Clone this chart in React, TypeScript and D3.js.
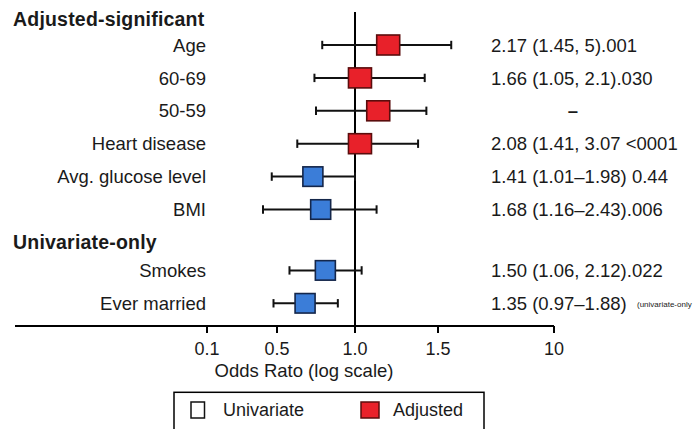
import React from "react";
import * as d3 from "d3";

// Odds-ratio axis: tick values shown along the bottom
const TICK_VALUES = [0.1, 0.5, 1.0, 1.5, 10];
const TICK_LABELS = ["0.1", "0.5", "1.0", "1.5", "10"];

// Rows of the forest plot
const GROUPS = ["Adjusted-significant", "Univariate-only"];
const ROW_NAMES = ["Age", "60-69", "50-59", "Heart disease", "Avg. glucose level", "BMI", "Smokes", "Ever married"];
const ROW_GROUP = [0, 0, 0, 0, 0, 0, 1, 1];
const ROW_KIND = ["adjusted", "adjusted", "adjusted", "adjusted", "univariate", "univariate", "univariate", "univariate"];
const OR_POINT = [1.2, 1.03, 1.14, 1.03, 0.73, 0.78, 0.81, 0.68];
const OR_LOW = [0.79, 0.74, 0.75, 0.63, 0.47, 0.42, 0.58, 0.48];
const OR_HIGH = [2.47, 1.42, 1.43, 1.38, 1.0, 1.13, 1.04, 0.89];
const ROW_TEXT = [
  "2.17 (1.45, 5).001",
  "1.66 (1.05, 2.1).030",
  "–",
  "2.08 (1.41, 3.07 <0001",
  "1.41 (1.01–1.98) 0.44",
  "1.68 (1.16–2.43).006",
  "1.50 (1.06, 2.12).022",
  "1.35 (0.97–1.88)",
];
const ROW_NOTE = ["", "", "", "", "", "", "", "(univariate-only"];

const LEGEND_LABELS = ["Univariate", "Adjusted"];

const W = 699;
const H = 429;
const FONT = "'Liberation Sans', Arial, Helvetica, sans-serif";
const TEXT = "#1a1a1a";
const RED = "#e8212a";
const RED_EDGE = "#5a0d0d";
const BLUE = "#3b7dd8";
const BLUE_EDGE = "#14264a";

// Piecewise axis: each tick gets its own stop along the axis
const x = d3.scaleLinear().domain(TICK_VALUES).range([207, 277, 355, 438, 554]).clamp(false);

const ROW_TOP = 45;
const ROW_STEP = 32.9;
const GROUP_GAP = 28;
const rowY = (i: number) => ROW_TOP + ROW_STEP * i + (ROW_GROUP[i] === 1 ? GROUP_GAP : 0);

export default function App() {
  const axisY = 326;
  const capH = 4.2;
  const groupHeaderY = [25.7, 248.7];

  return (
    <div style={{ position: "fixed", left: 0, top: 0, width: W, height: H, background: "#fff" }}>
      <svg width={W} height={H} viewBox={`0 0 ${W} ${H}`} style={{ display: "block", fontFamily: FONT }}>
        <rect width={W} height={H} fill="#fff" />

        {/* Group headers */}
        {GROUPS.map((g, gi) => (
          <text key={g} x={13} y={groupHeaderY[gi]} fontSize={19.5} fontWeight="bold" fill={TEXT} letterSpacing={0.2}>
            {g}
          </text>
        ))}

        {/* Row labels */}
        {ROW_NAMES.map((name, i) => (
          <text key={name} x={206} y={rowY(i)} dy="0.36em" fontSize={18.5} textAnchor="end" fill={TEXT}>
            {name}
          </text>
        ))}

        {/* Reference line at OR = 1 */}
        <line x1={x(1)} x2={x(1)} y1={12} y2={axisY} stroke="#000" strokeWidth={2} />

        {/* Confidence intervals and point estimates */}
        {ROW_NAMES.map((name, i) => {
          const y = rowY(i);
          const adj = ROW_KIND[i] === "adjusted";
          const w = adj ? 23 : 20;
          const h = adj ? 20 : 19.5;
          return (
            <g key={name}>
              <line x1={x(OR_LOW[i])} x2={x(OR_HIGH[i])} y1={y} y2={y} stroke="#111" strokeWidth={2} />
              <line x1={x(OR_LOW[i])} x2={x(OR_LOW[i])} y1={y - capH} y2={y + capH} stroke="#111" strokeWidth={2} />
              <line x1={x(OR_HIGH[i])} x2={x(OR_HIGH[i])} y1={y - capH} y2={y + capH} stroke="#111" strokeWidth={2} />
              <rect
                x={x(OR_POINT[i]) - w / 2}
                y={y - h / 2}
                width={w}
                height={h}
                fill={adj ? RED : BLUE}
                stroke={adj ? RED_EDGE : BLUE_EDGE}
                strokeWidth={1.6}
              />
            </g>
          );
        })}

        {/* Estimate text column */}
        {ROW_TEXT.map((t, i) => (
          <g key={i}>
            {t === "–" ? (
              <text x={573} y={rowY(i)} dy="0.36em" fontSize={18.5} fontWeight="bold" textAnchor="middle" fill={TEXT}>
                {t}
              </text>
            ) : (
              <text x={491} y={rowY(i)} dy="0.36em" fontSize={18.5} fill={TEXT}>
                {t}
              </text>
            )}
            {ROW_NOTE[i] && (
              <text x={637} y={rowY(i)} dy="0.45em" fontSize={8} fill={TEXT}>
                {ROW_NOTE[i]}
              </text>
            )}
          </g>
        ))}

        {/* X axis */}
        <line x1={15} x2={x(10)} y1={axisY} y2={axisY} stroke="#000" strokeWidth={2} />
        {TICK_VALUES.map((v, i) => (
          <g key={v} transform={`translate(${x(v)},${axisY})`}>
            <line y1={0} y2={7} stroke="#000" strokeWidth={2} />
            <text y={29} fontSize={18} textAnchor="middle" fill={TEXT}>
              {TICK_LABELS[i]}
            </text>
          </g>
        ))}
        <text x={304} y={376.5} fontSize={18.5} textAnchor="middle" fill={TEXT}>
          Odds Rato (log scale)
        </text>

        {/* Legend */}
        <rect x={174} y={392.3} width={310} height={60} fill="#fff" stroke="#000" strokeWidth={1.5} />
        <rect x={191} y={402} width={13.5} height={16} fill="#fff" stroke="#111" strokeWidth={1.5} />
        <text x={223} y={410} dy="0.36em" fontSize={18} fill={TEXT}>
          {LEGEND_LABELS[0]}
        </text>
        <rect x={361} y={402} width={18} height={16} fill={RED} stroke={RED_EDGE} strokeWidth={1.5} />
        <text x={393} y={410} dy="0.36em" fontSize={18} fill={TEXT}>
          {LEGEND_LABELS[1]}
        </text>
      </svg>
    </div>
  );
}
